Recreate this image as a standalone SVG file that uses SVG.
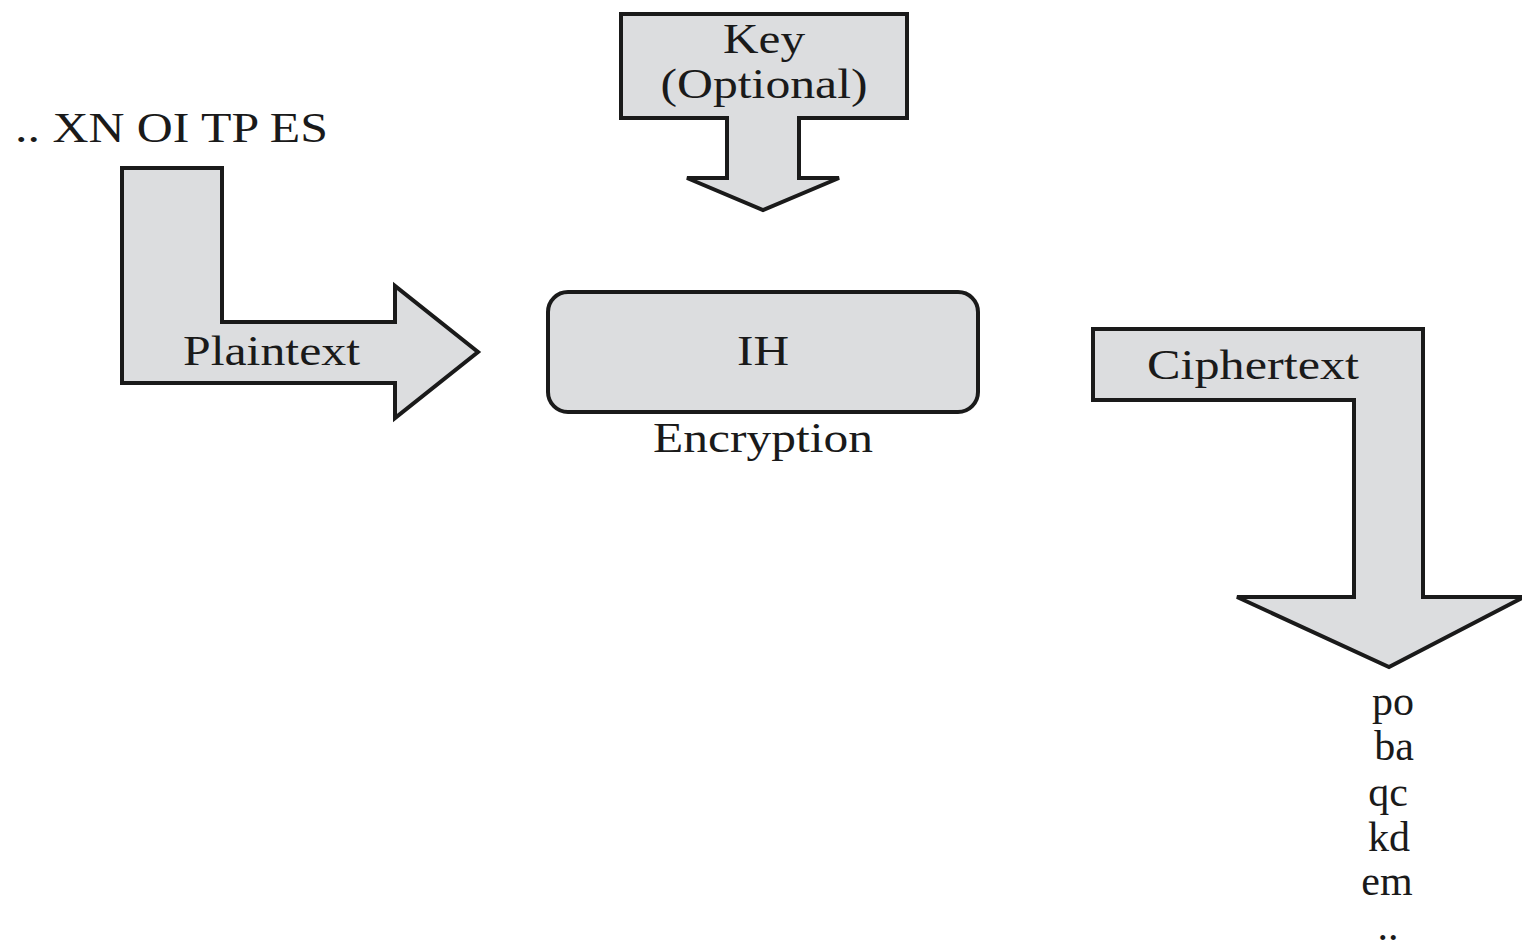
<svg xmlns="http://www.w3.org/2000/svg" width="1522" height="948" viewBox="0 0 1522 948" font-family="Liberation Serif, Times New Roman, Times, serif">
<style>
.shape{fill:#dcdddf;stroke:#1a1a1a;stroke-width:4;stroke-linejoin:miter}
text{font-family:'Liberation Serif','Times New Roman',Times,serif;font-size:42px;fill:#1a1a1a}
.c{text-anchor:middle}
</style>
<rect width="1522" height="948" fill="#ffffff"/>
<g id="connectors">
<g id="key-arrow">
<path class="shape" d="M621,14 H907 V118 H799 V178 H839 L763,210 L687,178 H727 V118 H621 Z"/>
<text class="c" x="764" y="53" textLength="82" lengthAdjust="spacingAndGlyphs">Key</text>
<text class="c" x="764" y="98" textLength="207" lengthAdjust="spacingAndGlyphs">(Optional)</text>
</g>
<g id="plaintext-arrow">
<path class="shape" d="M122,168 H222 V322 H395 V286 L478,352 L395,418 V383 H122 Z"/>
<text x="183" y="365" textLength="177" lengthAdjust="spacingAndGlyphs">Plaintext</text>
</g>
<g id="ciphertext-arrow">
<path class="shape" d="M1093,329 H1423 V597 H1524 L1389,667 L1237,597 H1354 V400 H1093 Z"/>
<text x="1147" y="379" textLength="212" lengthAdjust="spacingAndGlyphs">Ciphertext</text>
</g>
</g>
<g id="input">
<text x="15" y="142" textLength="313" lengthAdjust="spacingAndGlyphs">.. XN OI TP ES</text>
</g>
<g id="encryption">
<rect class="shape" x="548" y="292" width="430" height="120" rx="20" ry="20"/>
<text class="c" x="763" y="365" textLength="52" lengthAdjust="spacingAndGlyphs">IH</text>
<text class="c" x="763" y="452" textLength="220" lengthAdjust="spacingAndGlyphs">Encryption</text>
</g>
<g id="output">
<text class="c" x="1393" y="715">po</text>
<text class="c" x="1394" y="760">ba</text>
<text class="c" x="1388" y="806">qc</text>
<text class="c" x="1389" y="851">kd</text>
<text class="c" x="1387" y="895">em</text>
<text class="c" x="1388" y="940">..</text>
</g>
</svg>
